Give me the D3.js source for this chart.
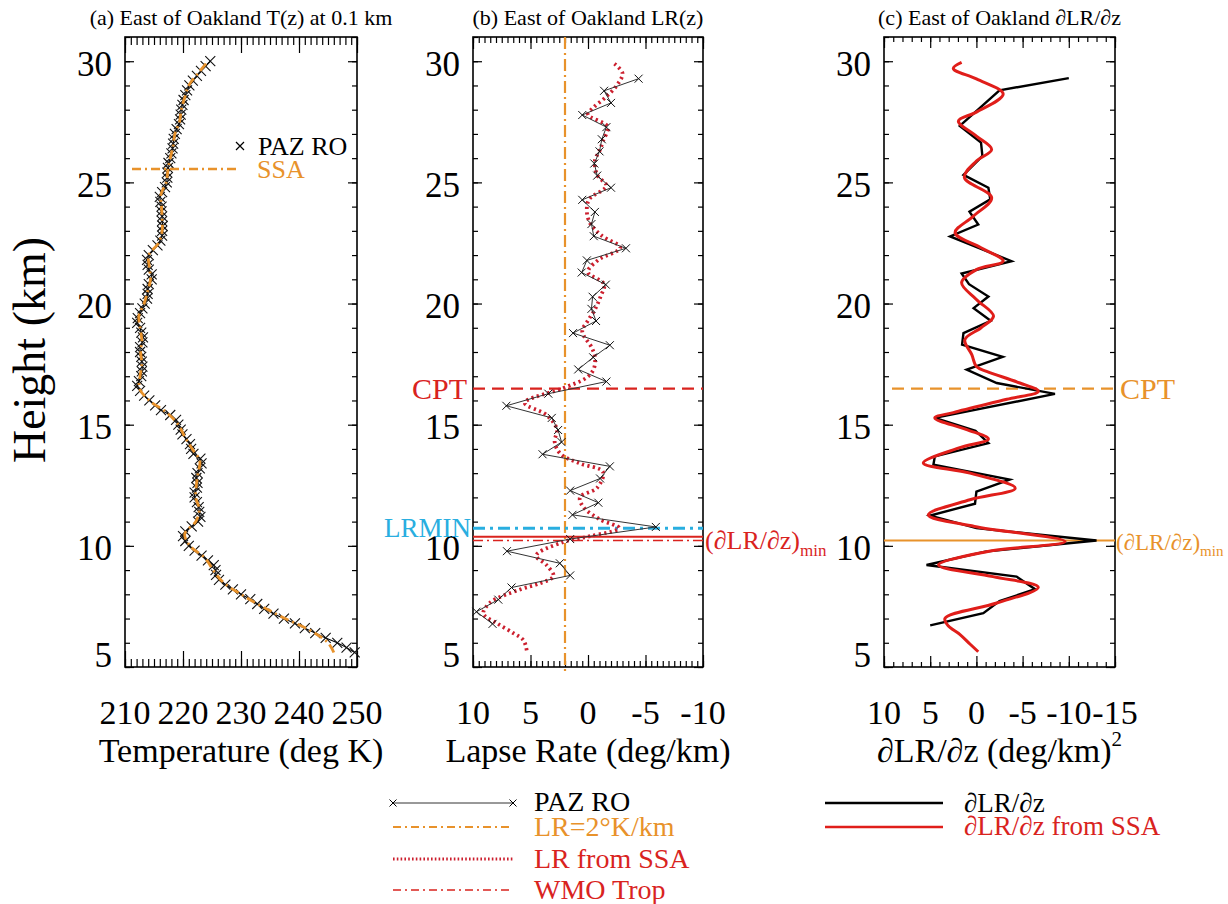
<!DOCTYPE html>
<html><head><meta charset="utf-8">
<script src="https://cdn.jsdelivr.net/npm/d3@7"></script>
<style>
body{margin:0;background:#fff}
svg{display:block}
text{font-family:"Liberation Serif","Times New Roman",serif;fill:#000}
</style>
</head><body>
<svg id="chart" width="1228" height="904"></svg>
<script>
// ---------------- DATA ----------------
const tempHeights = [5.6,5.8,6.0,6.2,6.4,6.6,6.8,7.0,7.2,7.4,7.6,7.8,8.0,8.2,8.4,8.6,8.8,9.0,9.2,9.4,9.6,9.8,10.0,10.2,10.4,10.6,10.8,11.0,11.2,11.4,11.6,11.8,12.0,12.2,12.4,12.6,12.8,13.0,13.2,13.4,13.6,13.8,14.0,14.2,14.4,14.6,14.8,15.0,15.2,15.4,15.6,15.8,16.0,16.2,16.4,16.6,16.8,17.0,17.2,17.4,17.6,17.8,18.0,18.2,18.4,18.6,18.8,19.0,19.2,19.4,19.6,19.8,20.0,20.2,20.4,20.6,20.8,21.0,21.2,21.4,21.6,21.8,22.0,22.2,22.4,22.6,22.8,23.0,23.2,23.4,23.6,23.8,24.0,24.2,24.4,24.6,24.8,25.0,25.2,25.4,25.6,25.8,26.0,26.2,26.4,26.6,26.8,27.0,27.2,27.4,27.6,27.8,28.0,28.2,28.4,28.6,28.8,29.0,29.2,29.4,29.6,29.8,30.0];
const tempPAZ = [249.6,248.2,246.6,244.6,242.8,241.0,239.3,237.4,235.6,234.0,232.8,231.6,230.0,228.6,227.3,226.2,225.7,225.6,225.3,224.3,223.2,222.0,221.0,220.4,220.0,220.4,221.5,222.6,223.0,222.8,222.7,222.4,222.0,222.0,222.4,222.5,222.3,222.5,222.9,223.2,223.0,221.8,221.4,221.2,220.6,219.9,219.6,219.2,218.8,217.8,216.2,215.2,214.2,213.3,212.6,212.1,212.4,212.8,212.9,213.0,212.9,212.8,212.6,212.6,213.0,213.1,212.8,212.6,212.1,212.2,212.6,213.0,213.4,213.8,213.9,213.9,214.1,214.6,214.6,214.1,213.9,213.8,214.1,214.8,215.6,216.1,216.4,216.4,216.5,216.4,216.4,216.3,216.3,216.1,216.0,216.4,216.9,217.2,217.3,217.3,217.4,217.5,217.8,218.0,218.2,218.3,218.4,218.6,218.9,219.3,219.5,219.6,219.7,219.9,220.1,220.4,220.7,221.1,221.7,222.4,223.1,223.9,224.7];

const ssaTempHeights = [5.6,6.0,6.5,7.0,7.5,8.0,8.5,9.0,9.5,10.0,10.5,11.0,11.5,12.0,12.5,13.0,13.5,14.0,14.5,15.0,15.5,16.0,16.5,17.0,17.5,18.0,18.5,19.0,19.5,20.0,20.5,21.0,21.5,22.0,22.5,23.0,23.5,24.0,24.5,25.0,25.5,26.0,26.5,27.0,27.5,28.0,28.5,29.0,29.5,30.0];
const ssaTemp = [246.0,245.0,242.0,237.6,233.6,230.0,226.9,225.2,223.8,221.2,220.3,222.2,222.8,222.2,222.3,222.6,222.9,221.6,220.3,219.2,217.2,214.2,212.5,212.6,212.9,212.7,212.9,212.6,212.4,213.3,213.9,214.4,214.2,214.1,215.8,216.4,216.4,216.3,216.2,217.1,217.4,217.8,218.3,218.6,219.4,219.7,220.3,221.0,222.6,224.3];

const lrHeights = [29.28,28.78,28.28,27.78,27.28,26.78,26.28,25.78,25.28,24.78,24.28,23.78,23.28,22.78,22.28,21.78,21.28,20.78,20.28,19.78,19.28,18.78,18.28,17.78,17.28,16.78,16.28,15.78,15.28,14.78,14.28,13.78,13.28,12.78,12.28,11.78,11.28,10.78,10.28,9.78,9.28,8.78,8.28,7.78,7.28,6.78];
const lrPAZ = [-4.4,-1.4,-2.0,0.5,-1.6,-1.2,-1.0,-0.55,-0.8,-2.0,0.5,-0.6,-0.3,-0.5,-3.3,0.1,0.55,-1.55,-0.4,-0.3,-0.7,1.3,-1.9,-0.45,0.85,-1.6,3.45,7.1,3.15,2.6,2.3,3.95,-1.9,-1.05,1.55,-0.9,1.35,-5.9,1.55,7.05,2.45,1.55,6.65,7.8,9.7,8.3];

const lrSSAHeights = [29.9,29.5,29.0,28.5,28.1,27.8,27.3,26.7,26.3,25.9,25.3,24.85,24.3,23.8,23.3,22.8,22.3,21.8,21.3,20.8,20.3,19.75,19.3,18.85,18.2,17.8,17.3,16.95,16.5,15.9,15.4,14.8,14.3,13.8,13.4,13.05,12.4,12.0,11.6,11.1,10.73,10.4,10.15,9.6,9.2,8.75,8.45,8.2,7.66,7.2,6.8,6.4,6.1,5.6];
const lrSSA = [-2.3,-3.0,-2.5,-1.5,-0.5,0.0,-1.7,-1.3,-1.0,-0.6,-0.8,-1.6,-0.1,0.1,-0.2,-1.2,-2.8,-0.9,0.0,-1.4,-1.1,-0.6,0.0,0.5,-0.3,-0.6,-0.5,0.1,2.2,5.5,3.6,2.7,2.9,2.4,0.7,-1.3,-0.8,0.7,0.4,-1.0,-2.7,-0.2,2.2,4.5,3.6,3.0,4.2,5.9,8.5,9.1,7.9,6.5,5.6,5.3];

const dlrHeights = [29.3,28.8,27.33,26.64,26.09,25.31,24.78,24.3,23.79,23.26,22.77,21.75,21.24,20.8,20.29,19.81,19.29,18.78,18.3,17.8,17.27,16.72,16.27,15.28,14.75,14.24,13.69,13.35,12.73,12.24,11.74,11.25,10.73,10.22,9.76,9.21,8.73,8.21,7.72,7.22,6.72];
const dlrPAZ = [-10.0,-2.5,1.8,-0.5,-0.65,1.4,-1.3,-1.5,0.75,-0.2,2.85,-3.8,1.6,0.8,-1.3,0.3,-1.55,1.4,1.55,-2.85,1.05,-2.2,-8.5,4.5,0.1,-1.3,4.5,4.65,-3.6,0.0,0.15,5.0,0.0,-13.0,-0.95,5.4,-4.35,-6.35,-2.5,-0.75,5.0];

const dlrSSAHeights = [29.95,29.7,29.27,28.65,27.9,27.53,26.91,26.36,25.88,25.2,24.37,23.6,22.92,22.3,21.75,21.4,20.86,20.17,19.48,19.0,18.51,17.89,17.4,17.2,16.72,16.38,16.05,15.5,15.28,14.8,14.41,14.05,13.42,13.0,12.38,11.9,11.28,10.8,10.18,9.76,9.21,8.73,8.29,7.64,7.01,6.7,6.35,5.95,5.63];
const dlrSSA = [1.6,2.5,0.0,-2.9,0.0,1.95,0.0,-1.65,0.0,1.3,-1.65,0.35,2.3,-0.5,-2.9,0.0,1.6,0.0,-1.85,-0.5,1.25,0.5,0.0,-1.1,-4.7,-6.7,-3.3,2.5,4.5,1.05,-1.3,1.8,5.75,0.7,-4.2,0.7,5.2,0.2,-9.6,-1.1,4.1,-1.8,-6.7,-2.2,3.4,3.05,1.8,0.7,-0.2];

const heightTicks = [5,10,15,20,25,30];
const tempTicks = [210,220,230,240,250];
const lrTicks = [10,5,0,-5,-10];
const dlrTicks = [10,5,0,-5,-10,-15];
const lrReference = 2;          // LR = 2 K/km
const cptHeight = 16.49;        // cold point tropopause
const lrminHeight = 10.73;      // LR minimum
const dlrMinHeightB = 10.38;    // (dLR/dz)min in panel b
const wmoTropHeight = 10.22;    // WMO tropopause
const dlrMinHeightC = 10.22;    // (dLR/dz)min in panel c

// ---------------- STYLE ----------------
const ORANGE = "#E8922B", RED = "#D9231E", DOTRED = "#CC1F2E", CYAN = "#29AEE0", CRED = "#E01E1A";
const svg = d3.select("#chart");
const TOP = 37, BOTTOM = 667;
const y = d3.scaleLinear().domain([5, 31]).range([BOTTOM, TOP]);
const xa = d3.scaleLinear().domain([210, 250]).range([125, 357]);
const xb = d3.scaleLinear().domain([10, -10]).range([473, 703]);
const xc = d3.scaleLinear().domain([10, -15]).range([884, 1115]);

function frame(x, majorStep, minorStep, majLen, minLen) {
  const [l, r] = x.range();
  const g = svg.append("g");
  const d = x.domain();
  const lo = Math.min(...d), hi = Math.max(...d);
  const minor = d3.range(lo, hi + 1e-9, minorStep);
  const major = d3.range(lo, hi + 1e-9, majorStep);
  const yMinor = d3.range(5, 31.0001, 1);
  const add = (axis, tr) => {
    const a = g.append("g").attr("transform", tr).call(axis);
    a.select(".domain").remove();
    a.selectAll("line").attr("stroke", "#000").attr("stroke-width", 1.2);
  };
  add(d3.axisBottom(x).tickValues(minor).tickSize(minLen).tickFormat(""), `translate(0,${TOP})`);
  add(d3.axisBottom(x).tickValues(major).tickSize(majLen).tickFormat(""), `translate(0,${TOP})`);
  add(d3.axisTop(x).tickValues(minor).tickSize(minLen).tickFormat(""), `translate(0,${BOTTOM})`);
  add(d3.axisTop(x).tickValues(major).tickSize(majLen).tickFormat(""), `translate(0,${BOTTOM})`);
  add(d3.axisRight(y).tickValues(yMinor).tickSize(5).tickFormat(""), `translate(${l},0)`);
  add(d3.axisRight(y).tickValues(heightTicks).tickSize(9).tickFormat(""), `translate(${l},0)`);
  add(d3.axisLeft(y).tickValues(yMinor).tickSize(5).tickFormat(""), `translate(${r},0)`);
  add(d3.axisLeft(y).tickValues(heightTicks).tickSize(9).tickFormat(""), `translate(${r},0)`);
  g.append("rect").attr("x", l).attr("y", TOP).attr("width", r - l).attr("height", BOTTOM - TOP)
    .attr("fill", "none").attr("stroke", "#000").attr("stroke-width", 1.6);
  g.selectAll("text.yl").data(heightTicks).join("text")
    .attr("x", l - 13).attr("y", v => Math.min(y(v) + 3, 655))
    .attr("text-anchor", "end").attr("dominant-baseline", "central")
    .attr("font-size", 35).text(v => v);
}

function xLabels(x, ticks) {
  svg.append("g").selectAll("text").data(ticks).join("text")
    .attr("x", v => x(v)).attr("y", 724).attr("text-anchor", "middle")
    .attr("font-size", 34).text(v => v);
}

function crossPath(s) { return `M${-s},${-s}L${s},${s}M${-s},${s}L${s},${-s}`; }

// ---------- Panel a ----------
frame(xa, 10, 1, 16, 8);
xLabels(xa, tempTicks);
svg.append("text").attr("x", d3.mean(xa.range())).attr("y", 762).attr("text-anchor", "middle")
  .attr("font-size", 34).text("Temperature (deg K)");
svg.append("text").attr("x", d3.mean(xa.range())).attr("y", 25).attr("text-anchor", "middle")
  .attr("font-size", 22).text("(a) East of Oakland T(z) at 0.1 km");
svg.append("text").attr("transform", "translate(45,350) rotate(-90)").attr("text-anchor", "middle")
  .attr("font-size", 46).text("Height (km)");

const tempData = tempHeights.map((h, i) => ({h, v: tempPAZ[i]}));
const ssaTData = ssaTempHeights.map((h, i) => ({h, v: ssaTemp[i]}));
svg.append("path").datum(tempData)
  .attr("d", d3.line().x(d => xa(d.v)).y(d => y(d.h)))
  .attr("fill", "none").attr("stroke", "#000").attr("stroke-width", 1.1);
svg.append("g").selectAll("path").data(tempData).join("path")
  .attr("transform", d => `translate(${xa(d.v)},${y(d.h)})`)
  .attr("d", crossPath(5)).attr("stroke", "#111").attr("stroke-width", 1.1).attr("fill", "none");
svg.append("path").datum(ssaTData)
  .attr("d", d3.line().curve(d3.curveCatmullRom).x(d => xa(d.v)).y(d => y(d.h)))
  .attr("fill", "none").attr("stroke", ORANGE).attr("stroke-width", 2.8).attr("stroke-dasharray", "9,4,2,4");
svg.append("path").attr("transform", "translate(240,146)").attr("d", crossPath(4))
  .attr("stroke", "#000").attr("stroke-width", 1.2).attr("fill", "none");
svg.append("text").attr("x", 258).attr("y", 155).attr("font-size", 26).text("PAZ RO");
svg.append("line").attr("x1", 132).attr("x2", 238).attr("y1", 169).attr("y2", 169)
  .attr("stroke", ORANGE).attr("stroke-width", 2.6).attr("stroke-dasharray", "9,4,2,4");
svg.append("text").attr("x", 257).attr("y", 178).attr("font-size", 26).style("fill", ORANGE).text("SSA");

// ---------- Panel b ----------
frame(xb, 5, 0.5, 12, 6);
xLabels(xb, lrTicks);
svg.append("text").attr("x", d3.mean(xb.range())).attr("y", 762).attr("text-anchor", "middle")
  .attr("font-size", 34).text("Lapse Rate (deg/km)");
svg.append("text").attr("x", d3.mean(xb.range())).attr("y", 25).attr("text-anchor", "middle")
  .attr("font-size", 22).text("(b) East of Oakland LR(z)");

svg.append("line").attr("x1", xb(lrReference)).attr("x2", xb(lrReference)).attr("y1", TOP).attr("y2", BOTTOM + 8)
  .attr("stroke", ORANGE).attr("stroke-width", 2.2).attr("stroke-dasharray", "12,4,2,4");
const hline = (x, h, color, w, dash) => svg.append("line")
  .attr("x1", x.range()[0]).attr("x2", x.range()[1]).attr("y1", y(h)).attr("y2", y(h))
  .attr("stroke", color).attr("stroke-width", w).attr("stroke-dasharray", dash);
hline(xb, cptHeight, RED, 2.4, "12,7");
hline(xb, lrminHeight, CYAN, 3, "12,5,3,5");
hline(xb, dlrMinHeightB, RED, 2, null);
hline(xb, wmoTropHeight, RED, 1.6, "10,4,2,4");

const lrData = lrHeights.map((h, i) => ({h, v: lrPAZ[i]}));
const lrSSAData = lrSSAHeights.map((h, i) => ({h, v: lrSSA[i]}));
svg.append("path").datum(lrSSAData)
  .attr("d", d3.line().curve(d3.curveCatmullRom).x(d => xb(d.v)).y(d => y(d.h)))
  .attr("fill", "none").attr("stroke", DOTRED).attr("stroke-width", 3.8).attr("stroke-dasharray", "2.2,3.3");
svg.append("path").datum(lrData)
  .attr("d", d3.line().x(d => xb(d.v)).y(d => y(d.h)))
  .attr("fill", "none").attr("stroke", "#333").attr("stroke-width", 1);
svg.append("g").selectAll("path").data(lrData).join("path")
  .attr("transform", d => `translate(${xb(d.v)},${y(d.h)})`)
  .attr("d", crossPath(4)).attr("stroke", "#111").attr("stroke-width", 1).attr("fill", "none");

svg.append("text").attr("x", 467).attr("y", y(cptHeight) + 10).attr("text-anchor", "end")
  .attr("font-size", 30).style("fill", RED).text("CPT");
svg.append("text").attr("x", 471).attr("y", y(lrminHeight) + 9).attr("text-anchor", "end")
  .attr("font-size", 27).style("fill", CYAN).text("LRMIN");
const lb = svg.append("text").attr("x", 705).attr("y", 549).attr("font-size", 26).style("fill", RED);
lb.append("tspan").text("(∂LR/∂z)");
lb.append("tspan").attr("font-size", 17).attr("dy", 7).text("min");

// ---------- Panel c ----------
frame(xc, 5, 1, 11, 5);
xLabels(xc, dlrTicks);
const tc = svg.append("text").attr("x", d3.mean(xc.range())).attr("y", 762).attr("text-anchor", "middle").attr("font-size", 34);
tc.append("tspan").text("∂LR/∂z (deg/km)");
tc.append("tspan").attr("font-size", 21).attr("dy", -16).text("2");
svg.append("text").attr("x", d3.mean(xc.range())).attr("y", 25).attr("text-anchor", "middle")
  .attr("font-size", 22).text("(c) East of Oakland ∂LR/∂z");

svg.append("line").attr("x1", 892).attr("x2", xc.range()[1]).attr("y1", y(cptHeight)).attr("y2", y(cptHeight))
  .attr("stroke", ORANGE).attr("stroke-width", 2.4).attr("stroke-dasharray", "12,7");
hline(xc, dlrMinHeightC, ORANGE, 2, null);

const dData = dlrHeights.map((h, i) => ({h, v: dlrPAZ[i]}));
const dSSAData = dlrSSAHeights.map((h, i) => ({h, v: dlrSSA[i]}));
svg.append("path").datum(dData)
  .attr("d", d3.line().x(d => xc(d.v)).y(d => y(d.h)))
  .attr("fill", "none").attr("stroke", "#000").attr("stroke-width", 2.4);
svg.append("path").datum(dSSAData)
  .attr("d", d3.line().curve(d3.curveCatmullRom.alpha(0.5)).x(d => xc(d.v)).y(d => y(d.h)))
  .attr("fill", "none").attr("stroke", CRED).attr("stroke-width", 3);

svg.append("text").attr("x", 1120).attr("y", y(cptHeight) + 10).attr("font-size", 30).style("fill", ORANGE).text("CPT");
const lc = svg.append("text").attr("x", 1116).attr("y", 550).attr("font-size", 23).style("fill", ORANGE);
lc.append("tspan").text("(∂LR/∂z)");
lc.append("tspan").attr("font-size", 15).attr("dy", 6).text("min");

// ---------- Bottom legends ----------
const L = svg.append("g");
L.append("line").attr("x1", 393).attr("x2", 513).attr("y1", 803).attr("y2", 803).attr("stroke", "#333").attr("stroke-width", 1);
[393, 513].forEach(px => L.append("path").attr("transform", `translate(${px},803)`).attr("d", crossPath(3.5))
  .attr("stroke", "#000").attr("stroke-width", 1).attr("fill", "none"));
L.append("text").attr("x", 534).attr("y", 811).attr("font-size", 28).text("PAZ RO");
L.append("line").attr("x1", 393).attr("x2", 513).attr("y1", 827).attr("y2", 827)
  .attr("stroke", ORANGE).attr("stroke-width", 2.2).attr("stroke-dasharray", "8,4,2,4");
L.append("text").attr("x", 534).attr("y", 836).attr("font-size", 28).style("fill", ORANGE).text("LR=2°K/km");
L.append("line").attr("x1", 393).attr("x2", 513).attr("y1", 859).attr("y2", 859)
  .attr("stroke", DOTRED).attr("stroke-width", 3).attr("stroke-dasharray", "1.6,2.2");
L.append("text").attr("x", 534).attr("y", 868).attr("font-size", 28).style("fill", RED).text("LR from SSA");
L.append("line").attr("x1", 393).attr("x2", 513).attr("y1", 890).attr("y2", 890)
  .attr("stroke", RED).attr("stroke-width", 1.5).attr("stroke-dasharray", "8,4,2,4");
L.append("text").attr("x", 534).attr("y", 899).attr("font-size", 28).style("fill", RED).text("WMO Trop");

L.append("line").attr("x1", 825).attr("x2", 943).attr("y1", 803).attr("y2", 803).attr("stroke", "#000").attr("stroke-width", 2.6);
L.append("text").attr("x", 964).attr("y", 812).attr("font-size", 27).text("∂LR/∂z");
L.append("line").attr("x1", 825).attr("x2", 943).attr("y1", 827).attr("y2", 827).attr("stroke", CRED).attr("stroke-width", 2.6);
L.append("text").attr("x", 964).attr("y", 835).attr("font-size", 27).style("fill", RED).text("∂LR/∂z from SSA");
</script>
</body></html>
